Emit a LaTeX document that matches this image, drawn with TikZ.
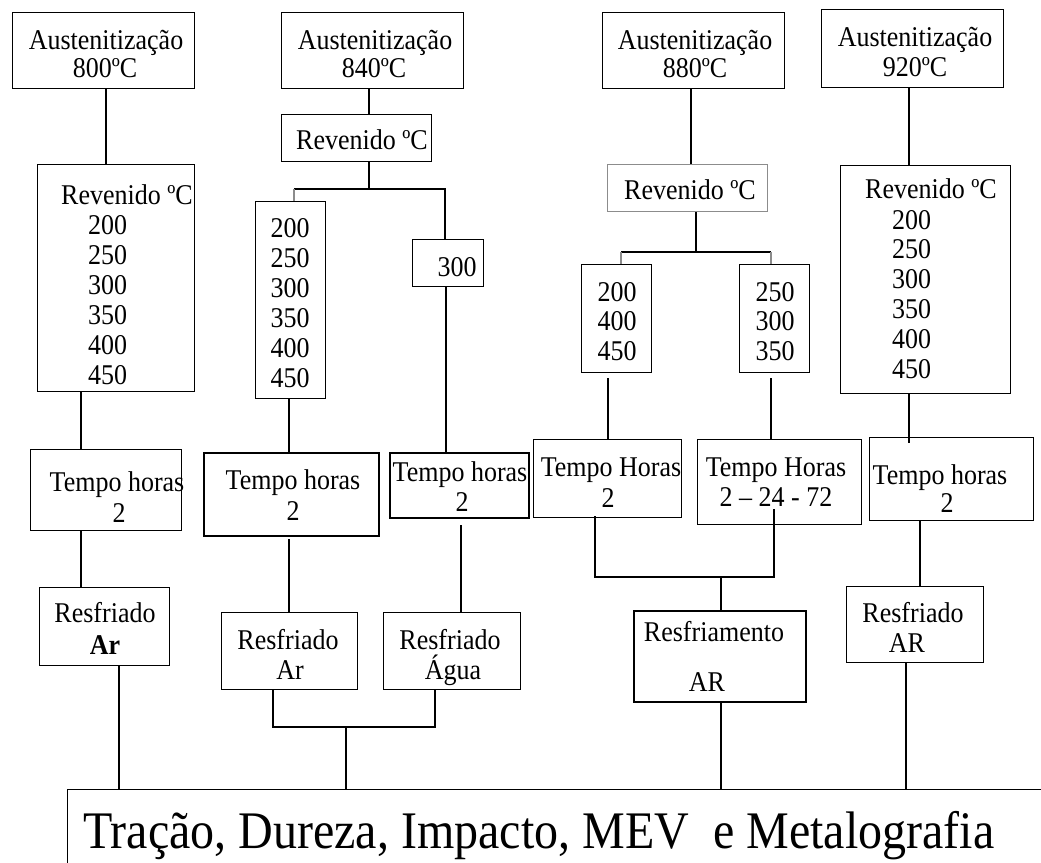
\documentclass[tikz,border=0pt]{standalone}
\usepackage{fontspec}
\usepackage{graphicx}
\setmainfont{Liberation Serif}
\newcommand\sy[1]{\scalebox{1}[1.1]{#1}}
\newcommand\bx[6]{\node[box,#6,minimum width={(#4-#2)*1pt},minimum height={(#5-#3)*1pt},anchor=north west] (#1) at (#2,#3) {};}
\newcommand\tx[4]{\node[txt,anchor=base] (#1) at (#2,#3+9) {\sy{#4}};}
\begin{document}
\begin{tikzpicture}[x=1pt,y=-1pt,
  box/.style={draw,line width=1.3pt,inner sep=0pt},
  thickbox/.style={line width=2.2pt},
  graybox/.style={draw=black!45},
  txt/.style={inner sep=0pt,font=\fontsize{26}{30}\selectfont},
  conn/.style={line width=1.3pt},
  gconn/.style={line width=1.3pt,draw=black!45}]
\clip (0,0) rectangle (1041,862);
% boxes
\bx{a800}{12}{12}{194}{88}{}
\bx{a840}{281}{12}{463}{88}{}
\bx{a880}{602}{12}{784}{88}{}
\bx{a920}{821}{9}{1003}{87}{}
\bx{r800}{37}{164}{194}{391}{}
\bx{rv840}{281}{114}{431}{161}{}
\bx{l840}{255}{201}{325}{398}{}
\bx{b300}{412}{239}{483}{286}{}
\bx{rv880}{607}{164}{767}{211}{graybox}
\bx{l880a}{581}{264}{651}{372}{}
\bx{l880b}{739}{264}{809}{372}{}
\bx{r920}{840}{165}{1010}{393}{}
\bx{t800}{30}{449}{181}{530}{}
\bx{t840a}{203}{452}{378}{535}{thickbox}
\bx{t840b}{389}{452}{528}{517}{thickbox}
\bx{t880a}{533}{439}{681}{517}{}
\bx{t880b}{697}{439}{861}{524}{}
\bx{t920}{869}{437}{1033}{520}{}
\bx{f800}{39}{587}{169}{665}{}
\bx{f840a}{221}{612}{357}{689}{}
\bx{f840b}{383}{612}{520}{689}{}
\bx{f880}{633}{610}{805}{701}{thickbox}
\bx{f920}{846}{586}{983}{662}{}
\bx{final}{67}{789}{1080}{900}{}
% texts
\tx{a800t1}{106}{40}{Austenitização}
\tx{a800t2}{105}{68}{800ºC}
\tx{a840t1}{375}{40}{Austenitização}
\tx{a840t2}{374}{68}{840ºC}
\tx{a880t1}{695}{40}{Austenitização}
\tx{a880t2}{695}{68}{880ºC}
\tx{a920t1}{915}{37}{Austenitização}
\tx{a920t2}{915}{67}{920ºC}
\tx{r800t}{127}{195}{Revenido ºC}
\foreach \v [count=\i] in {200,250,300,350,400,450}
  \node[txt,anchor=base west] (r800v\i) at (88,225+30*\i-30+9) {\sy{\v}};
\tx{rv840t}{362}{140}{Revenido ºC}
\foreach \v [count=\i] in {200,250,300,350,400,450}
  \node[txt,anchor=base] (l840v\i) at (290,228+30*\i-30+9) {\sy{\v}};
\tx{b300t}{457}{267}{300}
\tx{rv880t}{690}{190}{Revenido ºC}
\foreach \v [count=\i] in {200,400,450}
  \node[txt,anchor=base] (l880av\i) at (617,292+29.5*\i-29.5+9) {\sy{\v}};
\foreach \v [count=\i] in {250,300,350}
  \node[txt,anchor=base] (l880bv\i) at (775,292+29.5*\i-29.5+9) {\sy{\v}};
\tx{r920t}{931}{189}{Revenido ºC}
\foreach \v [count=\i] in {200,250,300,350,400,450}
  \node[txt,anchor=base west] (r920v\i) at (892,220+29.8*\i-29.8+9) {\sy{\v}};
\tx{t800t1}{117}{482}{Tempo horas}
\tx{t800t2}{119}{513}{2}
\tx{t840at1}{293}{480}{Tempo horas}
\tx{t840at2}{293}{511}{2}
\tx{t840bt1}{460}{472}{Tempo horas}
\tx{t840bt2}{462}{502}{2}
\tx{t880at1}{611}{467}{Tempo Horas}
\tx{t880at2}{608}{498}{2}
\tx{t880bt1}{776}{467}{Tempo Horas}
\tx{t880bt2}{776}{497}{2 – 24 - 72}
\tx{t920t1}{940}{475}{Tempo horas}
\tx{t920t2}{947}{503}{2}
\tx{f800t1}{105}{613}{Resfriado}
\tx{f800t2}{105}{645}{\bfseries Ar}
\tx{f840at1}{288}{640}{Resfriado}
\tx{f840at2}{290}{670}{Ar}
\tx{f840bt1}{450}{640}{Resfriado}
\tx{f840bt2}{453}{670}{Água}
\tx{f880t1}{714}{632}{Resfriamento}
\tx{f880t2}{707}{682}{AR}
\tx{f920t1}{913}{613}{Resfriado}
\tx{f920t2}{907}{643}{AR}
\node[inner sep=0pt,anchor=base west,font=\fontsize{48}{56}\selectfont] (finalt) at (83,848)
  {\scalebox{1}[1.1]{Tração, Dureza, Impacto, MEV\ \ e Metalografia}};
% connectors, 800
\draw[conn] (a800.south -| 106,0) -- (r800.north -| 106,0);
\draw[conn] (r800.south -| 81,0) -- (t800.north -| 81,0);
\draw[conn] (t800.south -| 81,0) -- (f800.north -| 81,0);
\draw[conn] (f800.south -| 119,0) -- (final.north -| 119,0);
% 840
\coordinate (j840) at (369,189);
\draw[conn] (a840.south -| 369,0) -- (rv840.north -| 369,0);
\draw[conn] (rv840.south -| 369,0) -- (j840);
\draw[conn] (j840) -- (294,189);
\draw[conn] (j840) -- (445,189) -- (b300.north -| 445,0);
\draw[gconn] (294,189) -- (l840.north -| 294,0);
\draw[conn] (l840.south -| 289,0) -- (t840a.north -| 289,0);
\draw[conn] (b300.south -| 446,0) -- (t840b.north -| 446,0);
\draw[conn] ([yshift=-2pt]t840a.south -| 289,0) -- (f840a.north -| 289,0);
\draw[conn] ([yshift=-6pt]t840b.south -| 461,0) -- (f840b.north -| 461,0);
\coordinate (j840b) at (346,727);
\draw[conn] (f840a.south -| 273,0) -- (273,727) -- (435,727) -- (f840b.south -| 435,0);
\draw[conn] (j840b) -- (final.north -| 346,0);
% 880
\coordinate (j880) at (696,252);
\draw[conn] (a880.south -| 691,0) -- (rv880.north -| 691,0);
\draw[conn] (rv880.south -| 696,0) -- (j880);
\draw[conn] (621,252) -- (771,252);
\draw[gconn] (621,252) -- (l880a.north -| 621,0);
\draw[gconn] (771,252) -- (l880b.north -| 771,0);
\draw[conn] ([yshift=-5pt]l880a.south -| 608,0) -- (t880a.north -| 608,0);
\draw[conn] ([yshift=-5pt]l880b.south -| 771,0) -- (t880b.north -| 771,0);
\coordinate (j880b) at (721,577);
\draw[conn] ([yshift=2pt]t880a.south -| 595,0) -- (595,577) -- (774,577) -- (774,509);
\draw[conn] (j880b) -- (f880.north -| 721,0);
\draw[conn] (f880.south -| 721,0) -- (final.north -| 721,0);
% 920
\draw[conn] (a920.south -| 909,0) -- (r920.north -| 909,0);
\draw[conn] (r920.south -| 909,0) -- ([yshift=-6pt]t920.north -| 909,0);
\draw[conn] (t920.south -| 920,0) -- (f920.north -| 920,0);
\draw[conn] (f920.south -| 906,0) -- (final.north -| 906,0);
\end{tikzpicture}
\end{document}
